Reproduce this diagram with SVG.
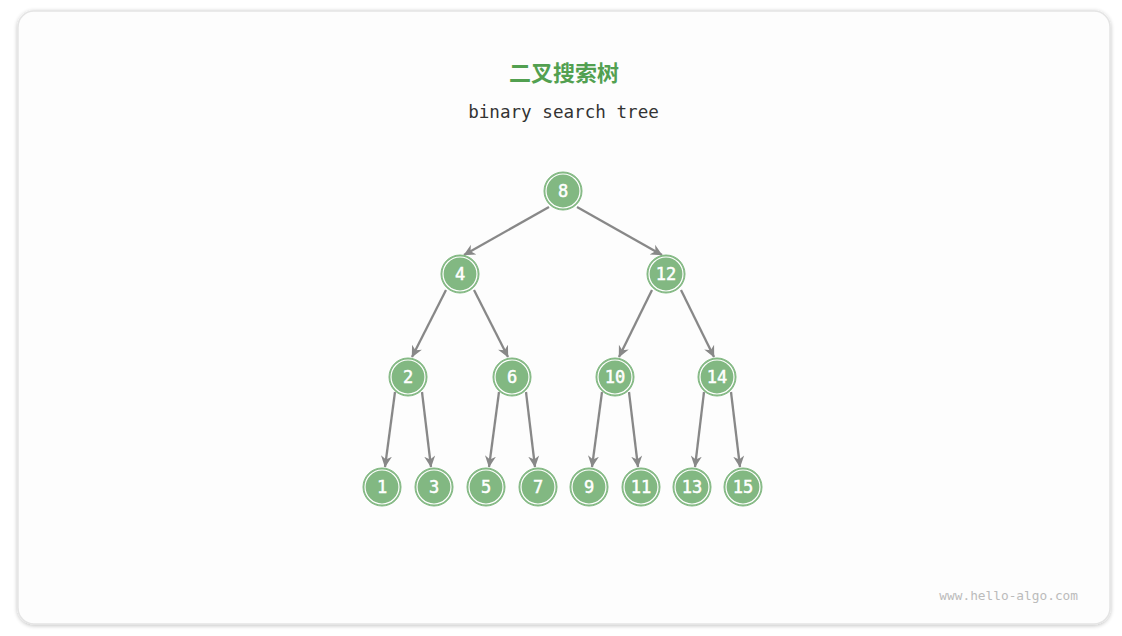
<svg xmlns="http://www.w3.org/2000/svg" width="1122" height="636" viewBox="0 0 1122 636">
<defs>
<filter id="sh" x="-5%" y="-5%" width="110%" height="110%">
<feGaussianBlur in="SourceAlpha" stdDeviation="2"/>
<feOffset dx="0" dy="1"/>
<feComponentTransfer><feFuncA type="linear" slope="0.25"/></feComponentTransfer>
<feMerge><feMergeNode/><feMergeNode in="SourceGraphic"/></feMerge>
</filter>
<marker id="arr" viewBox="0 0 12 12" refX="11" refY="6" markerWidth="12" markerHeight="12" markerUnits="userSpaceOnUse" orient="auto">
<path d="M0,0.5 L11.5,6 L0,11.5 L3.5,6 z" fill="#888888"/>
</marker>
</defs>
<style>
.edge{stroke:#888888;stroke-width:2.3;fill:none;marker-end:url(#arr)}
.nc{fill:#82b882;stroke:#82b882;stroke-width:1}
.ring{fill:none;stroke:#ffffff;stroke-width:1.2}
.nt{font-family:"DejaVu Sans Mono","Liberation Mono",monospace;font-size:17px;fill:#ffffff;stroke:#ffffff;stroke-width:0.5;text-anchor:middle;dominant-baseline:central}
</style>
<rect x="0" y="0" width="1122" height="636" fill="#ffffff"/>
<rect x="18" y="11" width="1092" height="613" rx="16" ry="16" fill="#fdfdfd" stroke="#e4e4e4" stroke-width="1.5" filter="url(#sh)"/>
<text x="564" y="81" font-family="'Noto Sans CJK SC',sans-serif" font-size="22" font-weight="bold" fill="#52a050" text-anchor="middle">二叉搜索树</text>
<text x="563.5" y="118" font-family="'DejaVu Sans Mono','Liberation Mono',monospace" font-size="17.6" fill="#333333" text-anchor="middle">binary search tree</text>
<text x="1078" y="600" font-family="'DejaVu Sans Mono','Liberation Mono',monospace" font-size="12.8" fill="#bbbbbb" text-anchor="end">www.hello-algo.com</text>
<g id="connectors">
<line class="edge" x1="549" y1="207" x2="464" y2="255"/>
<line class="edge" x1="577" y1="207" x2="662" y2="255"/>
<line class="edge" x1="446" y1="290" x2="412" y2="357"/>
<line class="edge" x1="474" y1="290" x2="508" y2="357"/>
<line class="edge" x1="652" y1="290" x2="619" y2="357"/>
<line class="edge" x1="681" y1="290" x2="714" y2="357"/>
<line class="edge" x1="395" y1="392" x2="385" y2="467"/>
<line class="edge" x1="422" y1="392" x2="431" y2="467"/>
<line class="edge" x1="499" y1="392" x2="489" y2="467"/>
<line class="edge" x1="526" y1="392" x2="535" y2="467"/>
<line class="edge" x1="602" y1="392" x2="592" y2="467"/>
<line class="edge" x1="629" y1="392" x2="638" y2="467"/>
<line class="edge" x1="704" y1="392" x2="695" y2="467"/>
<line class="edge" x1="731" y1="392" x2="740" y2="467"/>
</g>
<g id="n8"><circle class="nc" cx="563" cy="191" r="19"/><circle class="ring" cx="563" cy="191" r="17"/><text class="nt" x="563" y="191">8</text></g>
<g id="n4"><circle class="nc" cx="460" cy="274" r="19"/><circle class="ring" cx="460" cy="274" r="17"/><text class="nt" x="460" y="274">4</text></g>
<g id="n12"><circle class="nc" cx="666" cy="274" r="19"/><circle class="ring" cx="666" cy="274" r="17"/><text class="nt" x="666" y="274">12</text></g>
<g id="n2"><circle class="nc" cx="408" cy="377" r="19"/><circle class="ring" cx="408" cy="377" r="17"/><text class="nt" x="408" y="377">2</text></g>
<g id="n6"><circle class="nc" cx="512" cy="377" r="19"/><circle class="ring" cx="512" cy="377" r="17"/><text class="nt" x="512" y="377">6</text></g>
<g id="n10"><circle class="nc" cx="615" cy="377" r="19"/><circle class="ring" cx="615" cy="377" r="17"/><text class="nt" x="615" y="377">10</text></g>
<g id="n14"><circle class="nc" cx="717" cy="377" r="19"/><circle class="ring" cx="717" cy="377" r="17"/><text class="nt" x="717" y="377">14</text></g>
<g id="n1"><circle class="nc" cx="382" cy="487" r="19"/><circle class="ring" cx="382" cy="487" r="17"/><text class="nt" x="382" y="487">1</text></g>
<g id="n3"><circle class="nc" cx="434" cy="487" r="19"/><circle class="ring" cx="434" cy="487" r="17"/><text class="nt" x="434" y="487">3</text></g>
<g id="n5"><circle class="nc" cx="486" cy="487" r="19"/><circle class="ring" cx="486" cy="487" r="17"/><text class="nt" x="486" y="487">5</text></g>
<g id="n7"><circle class="nc" cx="538" cy="487" r="19"/><circle class="ring" cx="538" cy="487" r="17"/><text class="nt" x="538" y="487">7</text></g>
<g id="n9"><circle class="nc" cx="589" cy="487" r="19"/><circle class="ring" cx="589" cy="487" r="17"/><text class="nt" x="589" y="487">9</text></g>
<g id="n11"><circle class="nc" cx="641" cy="487" r="19"/><circle class="ring" cx="641" cy="487" r="17"/><text class="nt" x="641" y="487">11</text></g>
<g id="n13"><circle class="nc" cx="692" cy="487" r="19"/><circle class="ring" cx="692" cy="487" r="17"/><text class="nt" x="692" y="487">13</text></g>
<g id="n15"><circle class="nc" cx="743" cy="487" r="19"/><circle class="ring" cx="743" cy="487" r="17"/><text class="nt" x="743" y="487">15</text></g>
</svg>
